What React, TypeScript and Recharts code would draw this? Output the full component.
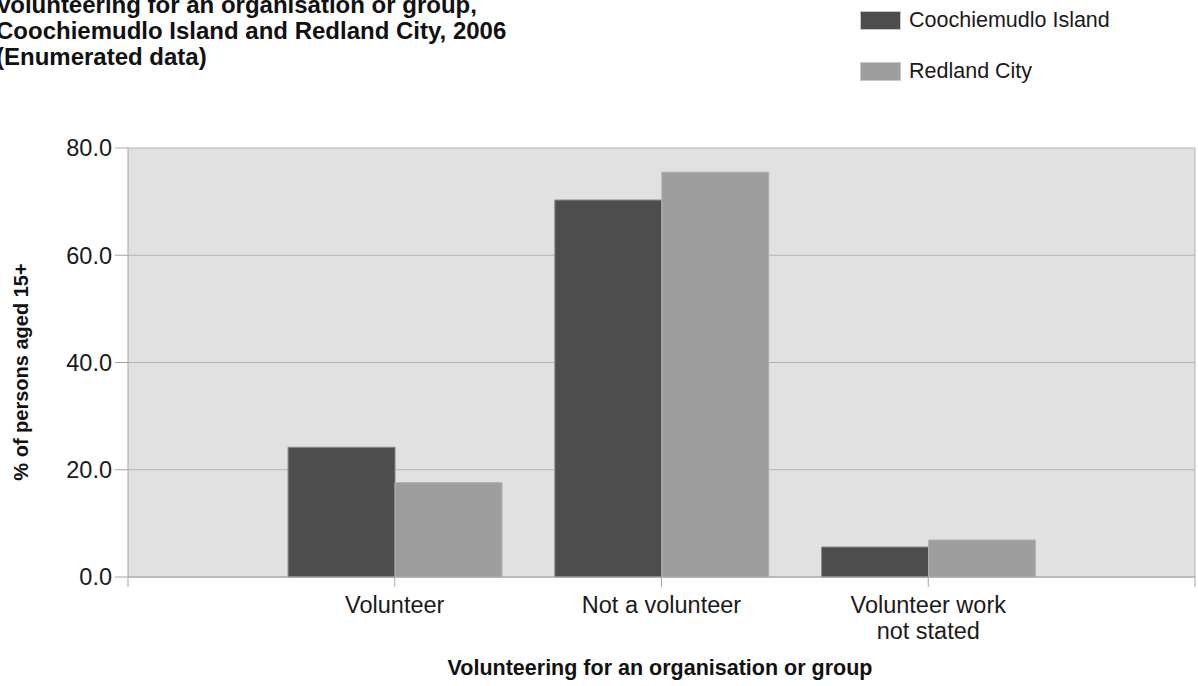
import { BarChart, Bar, XAxis, YAxis, CartesianGrid, Legend, ReferenceLine } from 'recharts';

const categories = ['Volunteer', 'Not a volunteer', 'Volunteer work not stated'];
const coochiemudlo = [24.2, 70.3, 5.6];
const redland = [17.6, 75.5, 6.9];
const yTicks = [0, 20, 40, 60, 80];

// categories sit on slots 1..3 of a 0..4 scale, so the axis has empty half-bands at each end
const data = categories.map((name, i) => ({
  pos: i + 1,
  name,
  coochiemudlo: coochiemudlo[i],
  redland: redland[i],
}));

const FONT = '"Liberation Sans", Arial, sans-serif';
const DARK = '#4d4d4d';
const LIGHT = '#9e9e9e';

// crude word wrap by character count, good enough for these labels
const wrap = (s: string, max = 16) => {
  const lines: string[] = [];
  let cur = '';
  s.split(' ').forEach((w) => {
    if (cur && (cur + ' ' + w).length > max) {
      lines.push(cur);
      cur = w;
    } else {
      cur = cur ? cur + ' ' + w : w;
    }
  });
  if (cur) lines.push(cur);
  return lines;
};

const CategoryTick = (props: any) => {
  const { x, y, payload } = props;
  const label = categories[payload.value - 1] ?? '';
  if (!label) return null;
  return (
    <text x={x} y={y + 24} textAnchor="middle" fontSize={23.5} fontFamily={FONT} fill="#1a1a1a">
      {wrap(label).map((line, i) => (
        <tspan key={i} x={x} dy={i === 0 ? 0 : 26}>
          {line}
        </tspan>
      ))}
    </text>
  );
};

const LegendBox = () => (
  <div style={{ fontFamily: FONT, fontSize: 21.5, color: '#1a1a1a' }}>
    {[
      { name: 'Coochiemudlo Island', color: DARK },
      { name: 'Redland City', color: LIGHT },
    ].map((item, i) => (
      <div key={item.name} style={{ display: 'flex', alignItems: 'center', height: 30, marginBottom: i === 0 ? 21 : 0 }}>
        <span
          style={{
            display: 'inline-block',
            width: 41,
            height: 19,
            background: item.color,
            border: '1px solid #c8c8c8',
            boxSizing: 'border-box',
            marginRight: 8,
          }}
        />
        {item.name}
      </div>
    ))}
  </div>
);

export default function App() {
  return (
    <div style={{ position: 'fixed', left: 0, top: 0, width: 1198, height: 686, background: '#fff', fontFamily: FONT, overflow: 'hidden' }}>
      <div
        style={{
          position: 'absolute',
          left: -4,
          top: -8,
          fontSize: 24,
          fontWeight: 'bold',
          lineHeight: '26px',
          color: '#111',
          whiteSpace: 'nowrap',
        }}
      >
        Volunteering for an organisation or group,
        <br />
        Coochiemudlo Island and Redland City, 2006
        <br />
        (Enumerated data)
      </div>

      <BarChart
        width={1198}
        height={686}
        data={data}
        margin={{ top: 148, right: 3, left: 8, bottom: 0 }}
        barCategoryGap="10%"
        barGap={0}
      >
        <CartesianGrid vertical={false} stroke="#b3b3b3" fill="#e1e1e1" />
        <XAxis
          dataKey="pos"
          type="number"
          domain={[0, 4]}
          ticks={[0, 1, 2, 3, 4]}
          interval={0}
          height={109}
          tickSize={10}
          tickLine={{ stroke: '#a6a6a6' }}
          axisLine={{ stroke: '#a6a6a6' }}
          tick={<CategoryTick />}
        />
        <YAxis
          domain={[0, 80]}
          ticks={yTicks}
          width={120}
          tickSize={13}
          tickMargin={3}
          tickFormatter={(v: number) => v.toFixed(1)}
          tick={{ fontSize: 23.5, fontFamily: FONT, fill: '#1a1a1a' }}
          tickLine={{ stroke: '#a6a6a6' }}
          axisLine={{ stroke: '#a6a6a6' }}
        />
        <ReferenceLine x={4} stroke="#b3b3b3" />
        <Legend
          layout="horizontal"
          verticalAlign="middle"
          align="center"
          wrapperStyle={{ top: 5, left: 860, width: 'auto' }}
          content={<LegendBox />}
        />
        <Bar dataKey="coochiemudlo" name="Coochiemudlo Island" fill={DARK} stroke="#8c8c8c" isAnimationActive={false} />
        <Bar dataKey="redland" name="Redland City" fill={LIGHT} stroke="#b4b4b4" isAnimationActive={false} />
      </BarChart>

      <div
        style={{
          position: 'absolute',
          left: 21,
          top: 372,
          transform: 'translate(-50%, -50%) rotate(-90deg)',
          fontSize: 20,
          fontWeight: 'bold',
          whiteSpace: 'nowrap',
          color: '#111',
        }}
      >
        % of persons aged 15+
      </div>
      <div
        style={{
          position: 'absolute',
          left: 660,
          top: 668,
          transform: 'translate(-50%, -50%)',
          fontSize: 21.5,
          fontWeight: 'bold',
          whiteSpace: 'nowrap',
          color: '#111',
        }}
      >
        Volunteering for an organisation or group
      </div>
    </div>
  );
}
